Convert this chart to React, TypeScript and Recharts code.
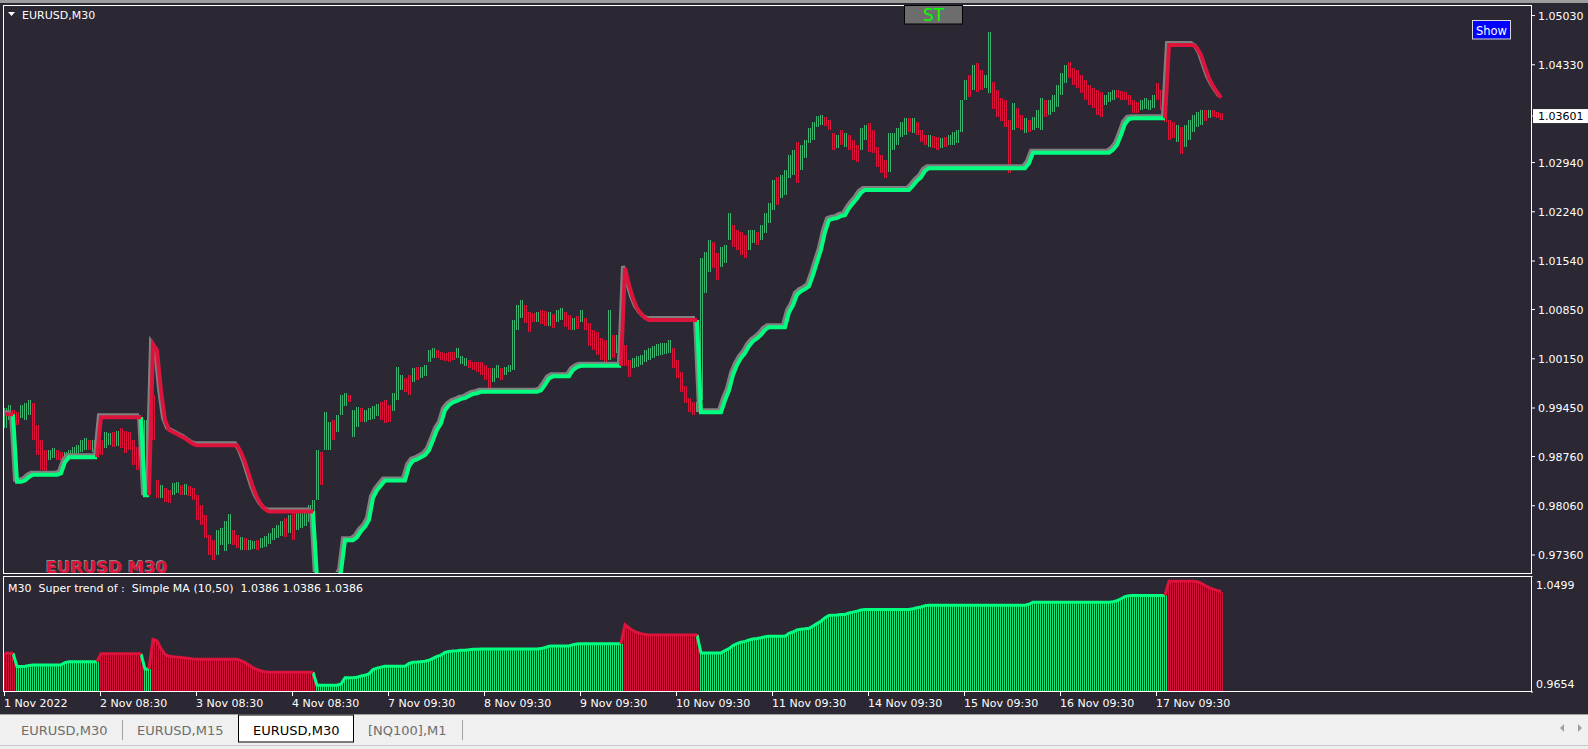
import React from 'react'
import { Bar, ComposedChart, Line, XAxis, YAxis } from 'recharts'

// every entry = two M30 bars, prices in points (1/10000)
const candleHigh = [
  9945, 9949, 9942, 9939, 9949, 9952, 9956, 9952, 9921, 9899,
  9885, 9885, 9888, 9885, 9882, 9882, 9885, 9889, 9892, 9899,
  9902, 9899, 9899, 9896, 9899, 9911, 9909, 9911, 9913, 9916,
  9913, 9911, 9899, 9889, 9885, 9928, 9980, 9963, 9842, 9835,
  9831, 9828, 9838, 9840, 9835, 9837, 9834, 9831, 9821, 9807,
  9793, 9764, 9757, 9771, 9774, 9785, 9795, 9771, 9764, 9761,
  9760, 9757, 9756, 9757, 9760, 9763, 9768, 9774, 9778, 9785,
  9788, 9793, 9797, 9800, 9797, 9803, 9807, 9814, 9885, 9882,
  9939, 9925, 9928, 9935, 9963, 9967, 9963, 9942, 9946, 9945,
  9942, 9945, 9948, 9950, 9953, 9956, 9949, 9967, 10003, 9992,
  9987, 9992, 10002, 10004, 10003, 10006, 10027, 10030, 10027, 10024,
  10023, 10024, 10024, 10030, 10019, 10016, 10013, 10010, 10010, 10010,
  10006, 10002, 10002, 10006, 10002, 10004, 10006, 10070, 10091, 10098,
  10091, 10081, 10080, 10081, 10084, 10083, 10081, 10078, 10084, 10087,
  10081, 10077, 10073, 10076, 10084, 10073, 10066, 10056, 10053, 10044,
  10042, 10084, 10049, 10049, 10042, 10034, 10013, 10016, 10019, 10020,
  10027, 10030, 10033, 10036, 10037, 10037, 10042, 10031, 10013, 9996,
  9977, 9959, 9953, 9953, 10158, 10167, 10184, 10181, 10165, 10174,
  10177, 10222, 10205, 10198, 10195, 10191, 10198, 10198, 10195, 10205,
  10222, 10236, 10269, 10273, 10276, 10283, 10305, 10312, 10323, 10319,
  10326, 10343, 10352, 10360, 10361, 10359, 10354, 10336, 10333, 10340,
  10336, 10333, 10326, 10319, 10343, 10347, 10350, 10340, 10316, 10305,
  10297, 10336, 10336, 10343, 10352, 10357, 10357, 10357, 10352, 10340,
  10333, 10333, 10332, 10330, 10329, 10330, 10333, 10337, 10340, 10383,
  10411, 10418, 10433, 10435, 10425, 10418, 10480, 10408, 10397, 10386,
  10383, 10354, 10378, 10371, 10361, 10357, 10354, 10359, 10369, 10386,
  10383, 10383, 10390, 10404, 10421, 10433, 10437, 10428, 10425, 10418,
  10411, 10404, 10400, 10397, 10394, 10390, 10394, 10397, 10397, 10396,
  10394, 10390, 10383, 10380, 10383, 10386, 10383, 10390, 10407, 10397,
  10383, 10354, 10352, 10347, 10344, 10347, 10354, 10361, 10366, 10369,
  10369, 10369, 10369, 10366, 10364,
]

const candleLow = [
  9916, 9928, 9911, 9921, 9930, 9928, 9935, 9899, 9878, 9857,
  9854, 9871, 9874, 9871, 9871, 9874, 9874, 9878, 9881, 9882,
  9885, 9885, 9882, 9882, 9878, 9888, 9892, 9889, 9892, 9888,
  9882, 9885, 9864, 9857, 9854, 9871, 9913, 9899, 9817, 9817,
  9811, 9810, 9821, 9825, 9821, 9822, 9820, 9814, 9785, 9778,
  9761, 9736, 9729, 9736, 9750, 9743, 9753, 9750, 9746, 9743,
  9743, 9743, 9744, 9743, 9746, 9748, 9753, 9757, 9760, 9764,
  9761, 9768, 9757, 9771, 9774, 9778, 9783, 9785, 9814, 9835,
  9885, 9885, 9899, 9911, 9935, 9949, 9953, 9904, 9918, 9925,
  9925, 9928, 9930, 9933, 9928, 9923, 9925, 9942, 9956, 9970,
  9967, 9963, 9982, 9985, 9987, 9990, 10010, 10016, 10016, 10013,
  10012, 10010, 10013, 10016, 10007, 10004, 10002, 9999, 9996, 9992,
  9985, 9973, 9982, 9987, 9985, 9992, 9996, 9999, 10056, 10073,
  10066, 10053, 10067, 10067, 10064, 10061, 10061, 10058, 10067, 10070,
  10060, 10056, 10056, 10058, 10067, 10056, 10034, 10027, 10020, 10013,
  10010, 10013, 10016, 10023, 10010, 10004, 9989, 10002, 10003, 10006,
  10010, 10013, 10016, 10019, 10020, 10021, 10024, 10002, 9987, 9967,
  9953, 9939, 9935, 9939, 9956, 10108, 10138, 10144, 10127, 10145,
  10152, 10184, 10174, 10169, 10162, 10158, 10169, 10179, 10177, 10184,
  10194, 10208, 10226, 10233, 10243, 10248, 10272, 10276, 10265, 10283,
  10300, 10322, 10326, 10344, 10347, 10346, 10340, 10312, 10315, 10319,
  10316, 10312, 10297, 10295, 10312, 10326, 10309, 10307, 10288, 10280,
  10272, 10280, 10312, 10319, 10330, 10333, 10337, 10336, 10333, 10323,
  10319, 10316, 10315, 10312, 10315, 10316, 10319, 10319, 10322, 10337,
  10383, 10387, 10397, 10394, 10397, 10400, 10393, 10369, 10359, 10354,
  10344, 10279, 10340, 10343, 10340, 10336, 10337, 10340, 10343, 10340,
  10359, 10361, 10366, 10373, 10390, 10408, 10414, 10404, 10400, 10393,
  10383, 10376, 10371, 10361, 10359, 10376, 10380, 10383, 10386, 10383,
  10383, 10376, 10364, 10364, 10369, 10371, 10369, 10371, 10383, 10369,
  10352, 10326, 10329, 10323, 10305, 10316, 10326, 10337, 10344, 10347,
  10354, 10357, 10359, 10357, 10354,
]

// G = bull bar, R = bear bar
const candleDir =
  'GGRRGGGRRR' + 'RGGRRGGGGG' + 'GRGRRGGRGR' + 'RRRRRGGRRG' + 'RRGGRGRRRR' +
  'RRRGGGGRRG' + 'RGGRGGGGGG' + 'RGRGGGGGGR' + 'GGRGGGRGGR' + 'GGGGRRRGGG' +
  'RRGRGGGGRR' + 'RRRGGGRRRR' + 'RRGGRGGGGG' + 'RRRGRRGRGG' + 'RRGRGRRRRR' +
  'RGRGRRRGGG' + 'GGGGGGGRRR' + 'RRRGGGGRRG' + 'GGRRRRGGRG' + 'GGGRGGGGRG' +
  'GGGGGRRRGR' + 'GRRRGGRRRR' + 'RGGGGGRGRR' + 'RGRRGRGGGG' + 'GRGRRGGRRR' +
  'RRGRRGRGGG' + 'RGGGGGRRRR' + 'RRRRRGGGRR' + 'RRRRGGGGRR' + 'RRRGRGGGGG' +
  'RGRRR'

const superTrend = [
  9936, 9936, 9936, 9840, 9840, 9842, 9847, 9850, 9850, 9850,
  9850, 9850, 9850, 9850, 9852, 9868, 9875, 9875, 9875, 9875,
  9875, 9875, 9875, 9875, 9932, 9932, 9932, 9932, 9932, 9932,
  9932, 9932, 9932, 9932, 9932, 9821, 9821, 10036, 10027, 9970,
  9928, 9914, 9911, 9908, 9905, 9902, 9898, 9894, 9892, 9892,
  9892, 9892, 9892, 9892, 9892, 9892, 9892, 9892, 9892, 9882,
  9868, 9850, 9832, 9818, 9808, 9801, 9798, 9798, 9798, 9798,
  9798, 9798, 9798, 9798, 9798, 9798, 9798, 9798, 9703, 9703,
  9703, 9703, 9703, 9703, 9712, 9757, 9757, 9757, 9761, 9770,
  9776, 9786, 9817, 9828, 9835, 9842, 9842, 9842, 9842, 9842,
  9842, 9862, 9870, 9872, 9875, 9878, 9885, 9899, 9914, 9923,
  9942, 9949, 9953, 9955, 9958, 9959, 9962, 9965, 9966, 9968,
  9968, 9968, 9968, 9968, 9968, 9968, 9968, 9968, 9968, 9968,
  9968, 9968, 9968, 9968, 9970, 9978, 9987, 9990, 9990, 9990,
  9990, 9990, 9999, 10003, 10005, 10005, 10005, 10005, 10005, 10005,
  10005, 10005, 10005, 10005, 10005, 10144, 10120, 10101, 10087, 10079,
  10073, 10070, 10070, 10070, 10070, 10070, 10070, 10070, 10070, 10070,
  10070, 10070, 10070, 10070, 9939, 9939, 9939, 9939, 9939, 9939,
  9956, 9970, 9992, 10006, 10016, 10023, 10033, 10040, 10044, 10049,
  10056, 10060, 10060, 10060, 10060, 10060, 10081, 10091, 10106, 10111,
  10114, 10118, 10134, 10152, 10170, 10195, 10212, 10214, 10215, 10218,
  10219, 10229, 10236, 10243, 10251, 10255, 10255, 10255, 10255, 10255,
  10255, 10255, 10255, 10255, 10255, 10255, 10255, 10261, 10268, 10273,
  10282, 10286, 10286, 10286, 10286, 10286, 10286, 10286, 10286, 10286,
  10286, 10286, 10286, 10286, 10286, 10286, 10286, 10286, 10286, 10286,
  10286, 10286, 10286, 10286, 10286, 10286, 10293, 10308, 10308, 10308,
  10308, 10308, 10308, 10308, 10308, 10308, 10308, 10308, 10308, 10308,
  10308, 10308, 10308, 10308, 10308, 10308, 10308, 10312, 10319, 10333,
  10349, 10356, 10357, 10357, 10357, 10357, 10357, 10357, 10357, 10357,
  10357, 10461, 10461, 10461, 10461, 10461, 10461, 10461, 10457, 10447,
  10430, 10414, 10403, 10394, 10386,
]

// entries where the trend flips (starts in a down trend)
const trendFlips = [3, 24, 35, 37, 78, 155, 174, 291]

const priceTicks = [1.0503, 1.0433, 1.03601, 1.0294, 1.0224, 1.0154, 1.0085, 1.0015, 0.9945, 0.9876, 0.9806, 0.9736]
const lastPrice = 1.03601
const subTicks = [1.0499, 0.9654]
const dateLabels = [
  '1 Nov 2022', '2 Nov 08:30', '3 Nov 08:30', '4 Nov 08:30', '7 Nov 09:30', '8 Nov 09:30', '9 Nov 09:30',
  '10 Nov 09:30', '11 Nov 09:30', '14 Nov 09:30', '15 Nov 09:30', '16 Nov 09:30', '17 Nov 09:30',
]
const tabs = ['EURUSD,M30', 'EURUSD,M15', 'EURUSD,M30', '[NQ100],M1']

const SLOTS = 382 // chart shift leaves the right part empty
const FONT = '"DejaVu Sans", Tahoma, sans-serif'
const BG = '#2b2733'
const GREEN = '#00ff7f'
const RED = '#dc143c'

const isUp = (i: number) => trendFlips.filter((f) => f <= i).length % 2 === 1

const rows = Array.from({ length: SLOTS }, (_, i) => {
  if (i >= superTrend.length) return { i }
  const up = isUp(i)
  const nextUp = i + 1 < superTrend.length ? isUp(i + 1) : up
  const st = superTrend[i] / 10000
  return {
    i,
    range: [candleLow[i] / 10000, candleHigh[i] / 10000],
    bull: candleDir[i] === 'G',
    up,
    st,
    stUp: up || nextUp ? st : null,
    stDn: !up || !nextUp ? st : null,
  }
})

const CandleShape = (props: any) => {
  const { x, y, width, height, payload } = props
  if (!payload || !payload.range) return null
  const cx = Math.round(x + width / 2)
  const top = Math.round(Math.min(y, y + height))
  const h = Math.max(1, Math.round(Math.abs(height)))
  const fill = payload.bull ? '#3cb371' : RED
  return (
    <g>
      <rect x={cx - 1} y={top} width={1} height={h} fill={fill} />
      <rect x={cx + 1} y={top} width={1} height={h} fill={fill} />
    </g>
  )
}

const HistShape = (props: any) => {
  const { x, y, width, height, payload } = props
  if (!payload || payload.st == null) return null
  const cx = Math.round(x + width / 2)
  const top = Math.round(Math.min(y, y + height))
  const h = Math.max(1, Math.round(Math.abs(height)))
  const fill = payload.up ? '#14e07c' : '#d0123a'
  return (
    <g>
      <rect x={cx - 1} y={top} width={1} height={h} fill={fill} />
      <rect x={cx + 1} y={top} width={1} height={h} fill={fill} />
    </g>
  )
}

const PriceTick = (props: any) => {
  const { x, y, payload } = props
  const v = payload.value
  if (v === lastPrice) {
    return (
      <g>
        <rect x={x - 5} y={y - 7} width={60} height={14} fill="#fff" />
        <text x={x} y={y + 4} fill="#000" fontSize={11} fontFamily={FONT}>{v.toFixed(5)}</text>
      </g>
    )
  }
  return <text x={x} y={y + 4} fill="#fff" fontSize={11} fontFamily={FONT}>{v.toFixed(5)}</text>
}

const SubTick = (props: any) => {
  const { x, y, payload } = props
  const top = payload.value === subTicks[0]
  return (
    <text x={x} y={top ? y + 13 : y - 4} fill="#fff" fontSize={11} fontFamily={FONT}>
      {payload.value.toFixed(4)}
    </text>
  )
}

const DateTick = (props: any) => {
  const { x, y, payload } = props
  return (
    <g>
      <line x1={x - 0.5} x2={x - 0.5} y1={y} y2={y + 4} stroke="#fff" />
      <text x={x - 1} y={y + 15} fill="#fff" fontSize={11} fontFamily={FONT}>
        {dateLabels[payload.value / 24]}
      </text>
    </g>
  )
}

const trendLines = (width: number, shadow: boolean) => [
  shadow && (
    <Line key="su" dataKey="stUp" stroke="#808080" strokeWidth={width} dot={false} isAnimationActive={false} className="st-shadow" />
  ),
  shadow && (
    <Line key="sd" dataKey="stDn" stroke="#808080" strokeWidth={width} dot={false} isAnimationActive={false} className="st-shadow" />
  ),
  <Line key="u" dataKey="stUp" stroke={GREEN} strokeWidth={width} dot={false} isAnimationActive={false} />,
  <Line key="d" dataKey="stDn" stroke={RED} strokeWidth={width} dot={false} isAnimationActive={false} />,
]

const tabX = [21, 137, 253, 368]

export default function App() {
  return (
    <div style={{ position: 'relative', width: 1588, height: 749, background: BG, overflow: 'hidden' }}>
      <style>{'body{margin:0} .st-shadow{transform:translate(-2px,-2px)}'}</style>

      <div style={{ position: 'absolute', left: 0, top: 0 }}>
        <ComposedChart width={1588} height={580} data={rows} margin={{ top: 5, right: 0, bottom: 6, left: 3 }}>
          <XAxis dataKey="i" hide />
          <YAxis
            orientation="right"
            width={57}
            domain={[0.9709, 1.0518]}
            allowDataOverflow
            ticks={priceTicks}
            interval={0}
            axisLine={false}
            tickSize={4}
            tickMargin={3}
            tickLine={{ stroke: '#fff' }}
            tick={PriceTick}
          />
          <Bar dataKey="range" shape={CandleShape} isAnimationActive={false} />
          {trendLines(4, true)}
        </ComposedChart>
      </div>

      <div style={{ position: 'absolute', left: 0, top: 576 }}>
        <ComposedChart width={1588} height={138} data={rows} margin={{ top: 0, right: 0, bottom: 0, left: 3 }}>
          <XAxis
            dataKey="i"
            height={22}
            ticks={[0, 24, 48, 72, 96, 120, 144, 168, 192, 216, 240, 264, 288]}
            interval={0}
            axisLine={false}
            tickLine={false}
            tickSize={0}
            tickMargin={0}
            tick={DateTick}
          />
          <YAxis
            orientation="right"
            width={57}
            domain={[0.9654, 1.0499]}
            allowDataOverflow
            ticks={subTicks}
            interval={0}
            axisLine={false}
            tickSize={2}
            tickMargin={3}
            tickLine={{ stroke: '#fff' }}
            tick={SubTick}
          />
          <Bar dataKey="st" shape={HistShape} isAnimationActive={false} />
          {trendLines(3, false)}
        </ComposedChart>
      </div>

      <svg width={1588} height={749} style={{ position: 'absolute', left: 0, top: 0, pointerEvents: 'none' }}>
        <rect x={0} y={0} width={1588} height={3} fill="#9d9d9d" />
        <rect x={3.5} y={5.5} width={1528} height={568} fill="none" stroke="#fff" />
        <rect x={3.5} y={576.5} width={1528} height={115} fill="none" stroke="#fff" />

        <polygon points="8,12 15,12 11.5,16" fill="#fff" />
        <text x={22} y={19} fill="#fff" fontSize={11} fontFamily={FONT}>EURUSD,M30</text>

        <rect x={904.5} y={5.5} width={58} height={18.5} fill="#6d6d6d" stroke="#000" />
        <text x={933.5} y={21} textAnchor="middle" fill="#00ff00" fontSize={17} fontFamily={FONT}>ST</text>

        <rect x={1472.5} y={20.5} width={38} height={18.5} fill="#0000ff" stroke="#d8d8d8" />
        <text x={1491.5} y={35} textAnchor="middle" fill="#fff" fontSize={11.5} fontFamily={FONT}>Show</text>

        <text x={45} y={572} fill="#8a8a8a" fontSize={16.5} fontWeight="bold" fontFamily={FONT}>EURUSD M30</text>
        <text x={46} y={573} fill={RED} fontSize={16.5} fontWeight="bold" fontFamily={FONT}>EURUSD M30</text>

        <text x={8} y={592} fill="#fff" fontSize={11} fontFamily={FONT} style={{ whiteSpace: 'pre' }}>
          {'M30  Super trend of :  Simple MA (10,50)  1.0386 1.0386 1.0386'}
        </text>

        <rect x={0} y={714} width={1588} height={35} fill="#f0f0f0" />
        <line x1={0} x2={1588} y1={714.5} y2={714.5} stroke="#a0a0a0" />
        <rect x={238.5} y={715} width={115} height={27} fill="#fff" stroke="#000" />
        <line x1={122.5} x2={122.5} y1={720} y2={740} stroke="#a0a0a0" />
        <line x1={462.5} x2={462.5} y1={720} y2={740} stroke="#a0a0a0" />
        {tabs.map((t, k) => (
          <text key={k} x={tabX[k]} y={735} fill={k === 2 ? '#000' : '#6d6d6d'} fontSize={13} fontFamily={FONT}>
            {t}
          </text>
        ))}
        <line x1={0} x2={1588} y1={745.5} y2={745.5} stroke="#c8c8c8" />
        <polygon points="1560,728 1564,724 1564,732" fill="#a0a0a0" />
        <polygon points="1582,728 1578,724 1578,732" fill="#a0a0a0" />
      </svg>
    </div>
  )
}
